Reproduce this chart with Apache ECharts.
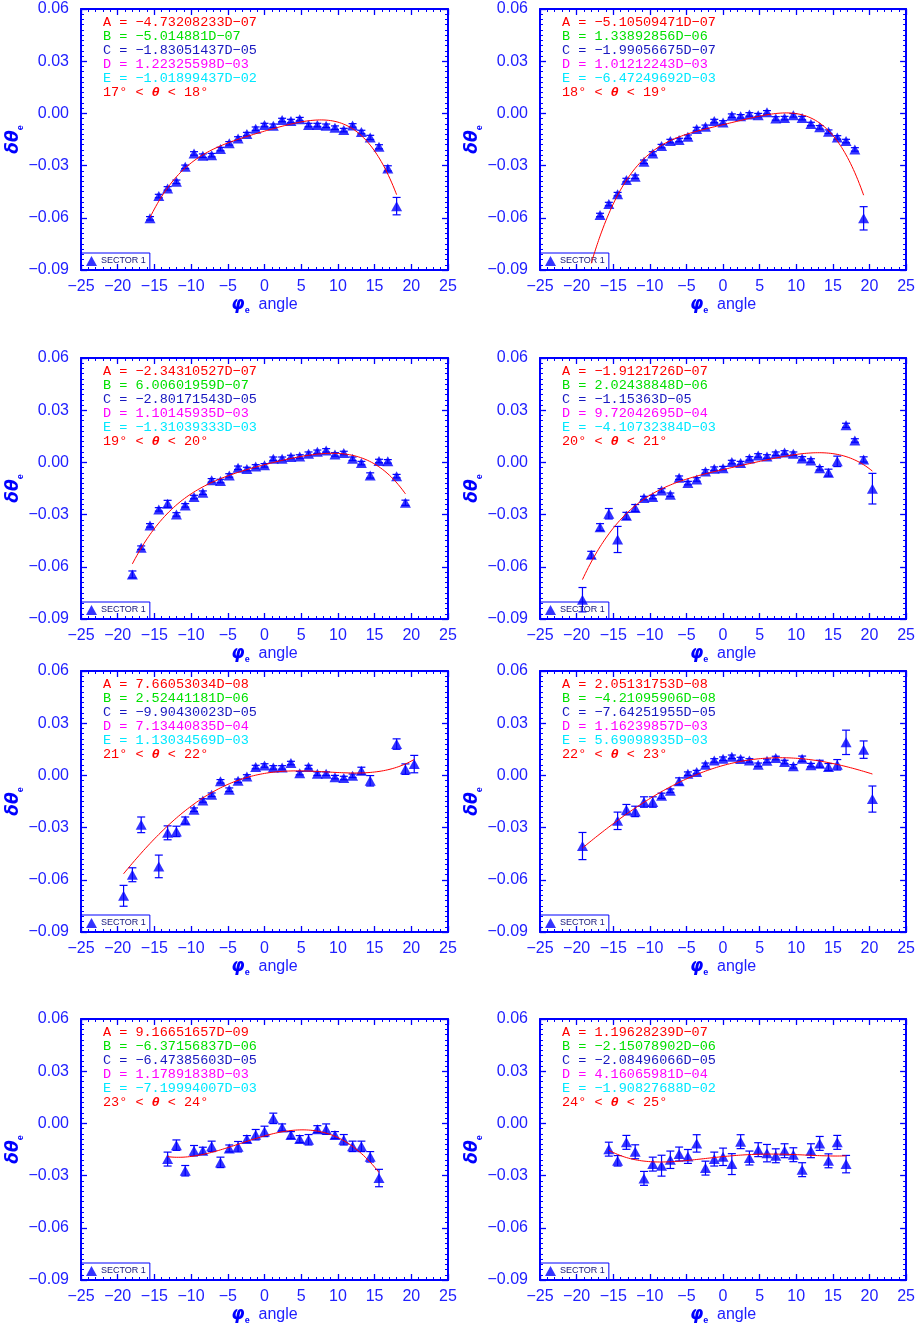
<!DOCTYPE html>
<html><head><meta charset="utf-8">
<script src="https://cdn.jsdelivr.net/npm/echarts@6/dist/echarts.min.js"></script>
<style>html,body{margin:0;padding:0;background:#fff}#c{width:918px;height:1330px}</style>
</head><body><div id="c"></div>
<script>
// ---------------- data ----------------
const phi1 = [-15.6,-14.4,-13.2,-12.0,-10.8,-9.6,-8.4,-7.2,-6.0,-4.8,-3.6,-2.4,-1.2,0,1.2,2.4,3.6,4.8,6.0,7.2,8.4,9.6,10.8,12.0,13.2,14.4,15.6,16.8,18.0];
const dth1 = [-0.0603,-0.0475,-0.0431,-0.0393,-0.0307,-0.0230,-0.0243,-0.0240,-0.0205,-0.0172,-0.0144,-0.0119,-0.0088,-0.0067,-0.0071,-0.0038,-0.0044,-0.0033,-0.0067,-0.0067,-0.0071,-0.0082,-0.0096,-0.0069,-0.0107,-0.0138,-0.0192,-0.0316,-0.0533];
const err1 = [0.001,0.001,0.001,0.001,0.001,0.001,0.001,0.001,0.001,0.001,0.001,0.001,0.001,0.001,0.001,0.001,0.001,0.001,0.001,0.001,0.001,0.001,0.001,0.001,0.001,0.0012,0.0012,0.0015,0.005];

const phi2 = [-16.8,-15.6,-14.4,-13.2,-12.0,-10.8,-9.6,-8.4,-7.2,-6.0,-4.8,-3.6,-2.4,-1.2,0,1.2,2.4,3.6,4.8,6.0,7.2,8.4,9.6,10.8,12.0,13.2,14.4,15.6,16.8,18.0,19.2];
const dth2 = [-0.0584,-0.0521,-0.0464,-0.0383,-0.0364,-0.0278,-0.0230,-0.0188,-0.0159,-0.0153,-0.0134,-0.0090,-0.0077,-0.0044,-0.0052,-0.0013,-0.0017,-0.0006,-0.0010,0.0006,-0.0029,-0.0027,-0.0011,-0.0027,-0.0061,-0.0080,-0.0105,-0.0138,-0.0159,-0.0207,-0.0603];
const err2 = [0.001,0.001,0.001,0.001,0.001,0.001,0.001,0.001,0.001,0.001,0.001,0.001,0.001,0.001,0.001,0.001,0.001,0.001,0.001,0.001,0.001,0.001,0.001,0.001,0.001,0.001,0.001,0.001,0.001,0.001,0.0067];

const phi3 = [-18.0,-16.8,-15.6,-14.4,-13.2,-12.0,-10.8,-9.6,-8.4,-7.2,-6.0,-4.8,-3.6,-2.4,-1.2,0,1.2,2.4,3.6,4.8,6.0,7.2,8.4,9.6,10.8,12.0,13.2,14.4,15.6,16.8,18.0,19.2];
const dth3 = [-0.0644,-0.0490,-0.0362,-0.0270,-0.0238,-0.0299,-0.0247,-0.0199,-0.0174,-0.0103,-0.0107,-0.0075,-0.0031,-0.0038,-0.0023,-0.0017,0.0021,0.0021,0.0031,0.0034,0.0050,0.0061,0.0069,0.0046,0.0054,0.0021,-0.0004,-0.0075,0.0008,0.0006,-0.0079,-0.0232];
const err3 = [0.002,0.001,0.001,0.001,0.002,0.001,0.001,0.001,0.001,0.001,0.001,0.001,0.001,0.001,0.001,0.001,0.001,0.001,0.001,0.001,0.001,0.001,0.001,0.001,0.001,0.001,0.001,0.0015,0.001,0.001,0.001,0.0015];

const phi4 = [-19.2,-18.0,-16.8,-15.6,-14.4,-13.2,-12.0,-10.8,-9.6,-8.4,-7.2,-6.0,-4.8,-3.6,-2.4,-1.2,0,1.2,2.4,3.6,4.8,6.0,7.2,8.4,9.6,10.8,12.0,13.2,14.4,15.6,16.8,18.0,19.2,20.4];
const dth4 = [-0.0789,-0.0531,-0.0372,-0.0295,-0.0443,-0.0307,-0.0262,-0.0205,-0.0199,-0.0161,-0.0186,-0.0088,-0.0119,-0.0098,-0.0052,-0.0036,-0.0033,0.0002,-0.0004,0.0023,0.0040,0.0034,0.0050,0.0057,0.0050,0.0023,0.0011,-0.0034,-0.0059,0.0006,0.0213,0.0126,0.0017,-0.0151];
const err4 = [0.007,0.002,0.002,0.003,0.0075,0.002,0.002,0.001,0.001,0.001,0.001,0.001,0.001,0.001,0.001,0.001,0.001,0.001,0.001,0.001,0.001,0.001,0.001,0.001,0.001,0.001,0.001,0.001,0.002,0.003,0.0012,0.001,0.0015,0.0088];

const phi5 = [-19.2,-18.0,-16.8,-14.4,-13.2,-12.0,-10.8,-9.6,-8.4,-7.2,-6.0,-4.8,-3.6,-2.4,-1.2,0,1.2,2.4,3.6,4.8,6.0,7.2,8.4,9.6,10.8,12.0,13.2,14.4,18.0,19.2,20.4];
const dth5 = [-0.0692,-0.0571,-0.0284,-0.0523,-0.0330,-0.0322,-0.0259,-0.0197,-0.0144,-0.0111,-0.0034,-0.0082,-0.0031,-0.0006,0.0048,0.0057,0.0046,0.0046,0.0071,0.0013,0.0048,0.0010,0.0010,-0.0010,-0.0015,-0.0002,0.0027,-0.0031,0.0180,0.0036,0.0065];
const err5 = [0.006,0.004,0.0045,0.0065,0.004,0.003,0.002,0.001,0.001,0.001,0.001,0.001,0.001,0.001,0.001,0.001,0.001,0.001,0.001,0.001,0.001,0.001,0.001,0.001,0.001,0.001,0.002,0.003,0.003,0.003,0.005];

const phi6 = [-19.2,-14.4,-13.2,-12.0,-10.8,-9.6,-8.4,-7.2,-6.0,-4.8,-3.6,-2.4,-1.2,0,1.2,2.4,3.6,4.8,6.0,7.2,8.4,9.6,10.8,12.0,13.2,14.4,15.6,16.8,19.2,20.4];
const dth6 = [-0.0406,-0.0261,-0.0197,-0.0207,-0.0153,-0.0153,-0.0117,-0.0088,-0.0034,0.0010,0.0019,0.0061,0.0086,0.0096,0.0107,0.0094,0.0086,0.0061,0.0084,0.0100,0.0077,0.0052,0.0096,0.0059,0.0067,0.0048,0.0061,0.0190,0.0148,-0.0136];
const err6 = [0.0078,0.005,0.003,0.003,0.003,0.003,0.0015,0.001,0.002,0.001,0.001,0.001,0.001,0.001,0.001,0.001,0.001,0.001,0.001,0.001,0.001,0.001,0.0015,0.001,0.002,0.002,0.003,0.007,0.005,0.0075];

const phi7 = [-13.2,-12.0,-10.8,-9.6,-8.4,-7.2,-6.0,-4.8,-3.6,-2.4,-1.2,0,1.2,2.4,3.6,4.8,6.0,7.2,8.4,9.6,10.8,12.0,13.2,14.4,15.6];
const dth7 = [-0.0205,-0.0125,-0.0272,-0.0157,-0.0157,-0.0132,-0.0224,-0.0144,-0.0134,-0.0090,-0.0065,-0.0046,0.0029,-0.0023,-0.0067,-0.0090,-0.0094,-0.0033,-0.0033,-0.0067,-0.0094,-0.0132,-0.0132,-0.0192,-0.0314];
const err7 = [0.004,0.003,0.003,0.003,0.002,0.003,0.003,0.002,0.003,0.002,0.003,0.003,0.003,0.002,0.002,0.002,0.003,0.002,0.003,0.002,0.003,0.003,0.003,0.003,0.005];

const phi8 = [-15.6,-14.4,-13.2,-12.0,-10.8,-9.6,-8.4,-7.2,-6.0,-4.8,-3.6,-2.4,-1.2,0,1.2,2.4,3.6,4.8,6.0,7.2,8.4,9.6,10.8,12.0,13.2,14.4,15.6,16.8];
const dth8 = [-0.0148,-0.0215,-0.0109,-0.0163,-0.0316,-0.0234,-0.0243,-0.0209,-0.0176,-0.0190,-0.0115,-0.0257,-0.0205,-0.0192,-0.0234,-0.0105,-0.0199,-0.0151,-0.0171,-0.0186,-0.0157,-0.0180,-0.0266,-0.0157,-0.0115,-0.0215,-0.0109,-0.0234];
const err8 = [0.004,0.003,0.004,0.004,0.004,0.004,0.006,0.005,0.004,0.004,0.005,0.004,0.004,0.005,0.006,0.004,0.004,0.004,0.005,0.004,0.004,0.004,0.004,0.004,0.004,0.004,0.004,0.005];

// fit parameters (as printed), y = A x^4 + B x^3 + C x^2 + D x + E
const parA = ['−4.73208233D−07','−5.10509471D−07','−2.34310527D−07','−1.9121726D−07','7.66053034D−08','2.05131753D−08','9.16651657D−09','1.19628239D−07'];
const parB = ['−5.014881D−07','1.33892856D−06','6.00601959D−07','2.02438848D−06','2.52441181D−06','−4.21095906D−08','−6.37156837D−06','−2.15078902D−06'];
const parC = ['−1.83051437D−05','−1.99056675D−07','−2.80171543D−05','−1.15363D−05','−9.90430023D−05','−7.64251955D−05','−6.47385603D−05','−2.08496066D−05'];
const parD = ['1.22325598D−03','1.01212243D−03','1.10145935D−03','9.72042695D−04','7.13440835D−04','1.16239857D−03','1.17891838D−03','4.16065981D−04'];
const parE = ['−1.01899437D−02','−6.47249692D−03','−1.31039333D−03','−4.10732384D−03','1.13034569D−03','5.69098935D−03','−7.19994007D−03','−1.90827688D−02'];
const thetaLo = [17,18,19,20,21,22,23,24];
const fitLo = [-15.6,-18.0,-18.0,-19.2,-19.2,-19.2,-13.2,-15.6];
const fitHi = [18.0,19.2,19.2,20.4,20.4,20.4,15.6,16.8];
const xTicks = ['−25','−20','−15','−10','−5','0','5','10','15','20','25'];

// ---------------- chart ----------------
const PHI = [phi1,phi2,phi3,phi4,phi5,phi6,phi7,phi8];
const DTH = [dth1,dth2,dth3,dth4,dth5,dth6,dth7,dth8];
const ERR = [err1,err2,err3,err4,err5,err6,err7,err8];
const BLUE = '#0000ff';
const TXT = '#2020ff';
const SANS = 'Liberation Sans';
const MONO = 'Liberation Mono';
const num = s => parseFloat(s.replace(/−/g,'-').replace('D','e'));

const colLeft = [81, 540];
const rowTop = [9, 358, 671, 1019];
const GW = 367, GH = 261;

const grid = [], xAxis = [], yAxis = [], series = [], title = [], legend = [];

function fmtY(v){ if (Math.abs(v) < 1e-9) return '0.00'; return v.toFixed(2).replace('-', '−'); }
function fmtX(v){ const i = Math.round((v + 25) / 5); return xTicks[i] !== undefined ? xTicks[i] : String(v); }

for (let i = 0; i < 8; i++) {
  const gl = colLeft[i % 2], gt = rowTop[Math.floor(i / 2)];
  grid.push({left: gl, top: gt, width: GW, height: GH, containLabel: false});
  const tickCommon = {
    axisLine: {show: true, onZero: false, lineStyle: {color: BLUE, width: 2}},
    axisTick: {show: true, inside: true, length: 6, lineStyle: {color: BLUE, width: 1.3}},
    minorTick: {show: true, length: 3, lineStyle: {color: BLUE, width: 1}},
    splitLine: {show: false}, minorSplitLine: {show: false}
  };
  xAxis.push(Object.assign({}, tickCommon, {
    gridIndex: i, type: 'value', position: 'bottom', min: -25, max: 25, interval: 5,
    minorTick: Object.assign({}, tickCommon.minorTick, {splitNumber: 5}),
    axisLabel: {show: true, color: TXT, fontSize: 16, fontFamily: SANS, margin: 9, formatter: fmtX},
    name: '{p|φ}{s|e}{n|  angle}', nameLocation: 'middle', nameGap: 22,
    nameTextStyle: {rich: {
      p: {fontSize: 17, fontWeight: 'bold', fontStyle: 'italic', fontFamily: 'DejaVu Sans', color: BLUE, lineHeight: 22},
      s: {fontSize: 9, fontWeight: 'bold', fontFamily: SANS, color: BLUE, lineHeight: 10, verticalAlign: 'bottom'},
      n: {fontSize: 16, fontFamily: SANS, color: TXT, lineHeight: 22}
    }}
  }));
  xAxis.push(Object.assign({}, tickCommon, {
    gridIndex: i, type: 'value', position: 'top', min: -25, max: 25, interval: 5,
    minorTick: Object.assign({}, tickCommon.minorTick, {splitNumber: 5}),
    axisLabel: {show: false}
  }));
  yAxis.push(Object.assign({}, tickCommon, {
    gridIndex: i, type: 'value', position: 'left', min: -0.09, max: 0.06, interval: 0.03,
    minorTick: Object.assign({}, tickCommon.minorTick, {splitNumber: 10}),
    axisLabel: {show: true, color: TXT, fontSize: 16, fontFamily: SANS, margin: 12, formatter: fmtY},
    name: '{d|δθ}{s|e}', nameLocation: 'middle', nameGap: 47, nameRotate: 90,
    nameTextStyle: {rich: {
      d: {fontSize: 17, fontWeight: 'bold', fontStyle: 'italic', fontFamily: 'DejaVu Sans', color: BLUE, lineHeight: 22},
      s: {fontSize: 9, fontWeight: 'bold', fontFamily: SANS, color: BLUE, lineHeight: 10, verticalAlign: 'bottom'}
    }}
  }));
  yAxis.push(Object.assign({}, tickCommon, {
    gridIndex: i, type: 'value', position: 'right', min: -0.09, max: 0.06, interval: 0.03,
    minorTick: Object.assign({}, tickCommon.minorTick, {splitNumber: 10}),
    axisLabel: {show: false}
  }));

  const xi = 2 * i, yi = 2 * i;
  const phi = PHI[i], dth = DTH[i], err = ERR[i];

  series.push({
    type: 'custom', xAxisIndex: xi, yAxisIndex: yi, silent: true, z: 2,
    data: phi.map((x, j) => [x, dth[j], err[j]]),
    encode: {x: 0, y: 1},
    renderItem: function (params, api) {
      const x = api.value(0), y = api.value(1), e = api.value(2);
      const t = api.coord([x, y + e]), b = api.coord([x, y - e]);
      const cw = 4;
      const st = {stroke: BLUE, lineWidth: 1.2};
      return {type: 'group', children: [
        {type: 'line', shape: {x1: t[0], y1: t[1], x2: b[0], y2: b[1]}, style: st},
        {type: 'line', shape: {x1: t[0] - cw, y1: t[1], x2: t[0] + cw, y2: t[1]}, style: st},
        {type: 'line', shape: {x1: b[0] - cw, y1: b[1], x2: b[0] + cw, y2: b[1]}, style: st}
      ]};
    }
  });
  series.push({
    name: 'SECTOR 1', type: 'scatter', xAxisIndex: xi, yAxisIndex: yi, z: 3,
    symbol: 'triangle', symbolSize: [11, 10],
    itemStyle: {color: BLUE},
    data: phi.map((x, j) => [x, dth[j]])
  });
  const A = num(parA[i]), B = num(parB[i]), C = num(parC[i]), D = num(parD[i]), E = num(parE[i]);
  const fit = [];
  const n = Math.round((fitHi[i] - fitLo[i]) / 0.1);
  for (let k = 0; k <= n; k++) {
    const x = fitLo[i] + (fitHi[i] - fitLo[i]) * k / n;
    fit.push([x, (((A * x + B) * x + C) * x + D) * x + E]);
  }
  series.push({
    name: 'fit', type: 'line', xAxisIndex: xi, yAxisIndex: yi, z: 4, clip: true,
    showSymbol: false, symbol: 'none', smooth: false, silent: true,
    lineStyle: {color: '#ff0000', width: 1}, data: fit
  });

  legend.push({
    data: ['SECTOR 1'], left: gl, top: gt + GH - 17, orient: 'horizontal',
    selectedMode: false, borderColor: BLUE, borderWidth: 1, borderRadius: 0,
    padding: [3, 4, 4, 5], itemWidth: 11, itemHeight: 10, itemGap: 4,
    textStyle: {fontSize: 9, fontFamily: SANS, color: '#14147a', padding: [0, 0, 0, -1]}
  });

  const rows = [
    ['A', parA[i], '#ff0000'], ['B', parB[i], '#00e000'], ['C', parC[i], '#1818c0'],
    ['D', parD[i], '#ff00ff'], ['E', parE[i], '#00e8ff']
  ];
  rows.forEach((r, k) => {
    title.push({text: r[0] + ' = ' + r[1], left: gl + 22, top: gt + 6 + 14 * k, padding: 0, itemGap: 0,
      textStyle: {color: r[2], fontSize: 13.5, fontFamily: MONO, fontWeight: 'normal', lineHeight: 15}});
  });
  title.push({
    text: '{n|' + thetaLo[i] + '° < }{t|θ}{n| < ' + (thetaLo[i] + 1) + '°}',
    left: gl + 22, top: gt + 6 + 14 * 5, padding: 0,
    textStyle: {color: '#ff0000', fontSize: 13.5, fontFamily: MONO, fontWeight: 'normal', lineHeight: 15,
      rich: {
        n: {color: '#ff0000', fontSize: 13.5, fontFamily: MONO, lineHeight: 15},
        t: {color: '#ff0000', fontSize: 13.5, fontFamily: MONO, fontWeight: 'bold', fontStyle: 'italic', lineHeight: 15}
      }}
  });
}

const chart = echarts.init(document.getElementById('c'), null, {renderer: 'canvas', width: 918, height: 1330});
chart.setOption({
  backgroundColor: '#ffffff', animation: false,
  title, grid, xAxis, yAxis, series, legend
});
</script></body></html>
